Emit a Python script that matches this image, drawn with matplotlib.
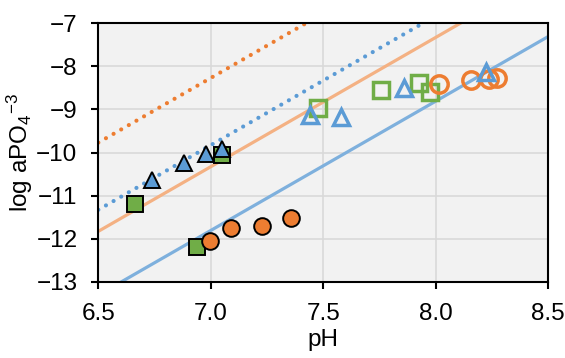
import matplotlib.pyplot as plt

plt.rcParams['font.family'] = ['Liberation Sans', 'DejaVu Sans']
plt.rcParams['mathtext.default'] = 'regular'

ORANGE = "#ED7D31"
BLUE = "#5B9BD5"
GREEN = "#70AD47"

# trend lines, values at pH 6.5 and 8.5
line_ph = [6.5, 8.5]
orange_dotted = [-9.77, -3.77]
blue_dotted = [-11.33, -5.33]
orange_solid = [-11.83, -5.83]
blue_solid = [-13.31, -7.31]

# filled symbols
green_fill_ph = [6.663, 6.938, 7.049]
green_fill_log = [-11.20, -12.20, -10.06]
orange_fill_ph = [6.997, 7.089, 7.227, 7.356]
orange_fill_log = [-12.05, -11.75, -11.71, -11.53]
blue_fill_ph = [6.740, 6.883, 6.978, 7.052]
blue_fill_log = [-10.63, -10.25, -10.03, -9.93]

# open symbols
green_open_ph = [7.477, 7.759, 7.928, 7.977]
green_open_log = [-8.97, -8.56, -8.39, -8.59]
orange_open_ph = [8.017, 8.159, 8.239, 8.271]
orange_open_log = [-8.41, -8.32, -8.30, -8.28]
blue_open_ph = [7.440, 7.581, 7.861, 8.226]
blue_open_log = [-9.13, -9.18, -8.51, -8.12]

fig = plt.figure(figsize=(5.65, 3.58), dpi=100)
ax = fig.add_axes([0.174, 0.213, 0.796, 0.722])
ax.set_facecolor("#F2F2F2")

ax.plot(line_ph, orange_dotted, color=ORANGE, lw=3, ls=(0, (0.01, 2.1)),
        dash_capstyle="round", zorder=2)
ax.plot(line_ph, blue_dotted, color=BLUE, lw=3, ls=(0, (0.01, 2.1)),
        dash_capstyle="round", zorder=2)
ax.plot(line_ph, orange_solid, color="#F4B183", lw=2.3, zorder=2)
ax.plot(line_ph, blue_solid, color="#7EB0DD", lw=2.3, zorder=2)

ax.plot(green_fill_ph, green_fill_log, ls="none", marker="s", ms=11,
        mfc=GREEN, mec="black", mew=1.4, zorder=3)
ax.plot(orange_fill_ph, orange_fill_log, ls="none", marker="o", ms=12,
        mfc=ORANGE, mec="black", mew=1.4, zorder=3)
ax.plot(blue_fill_ph, blue_fill_log, ls="none", marker="^", ms=12,
        mfc=BLUE, mec="black", mew=1.4, zorder=4)

ax.plot(green_open_ph, green_open_log, ls="none", marker="s", ms=12,
        mfc="none", mec=GREEN, mew=2.5, zorder=3)
ax.plot(orange_open_ph, orange_open_log, ls="none", marker="o", ms=12.5,
        mfc="none", mec=ORANGE, mew=2.5, zorder=3)
ax.plot(blue_open_ph, blue_open_log, ls="none", marker="^", ms=12,
        mfc="none", mec=BLUE, mew=2.5, zorder=4)

ax.set_xlim(6.5, 8.5)
ax.set_ylim(-13, -7)
ax.set_xticks([6.5, 7.0, 7.5, 8.0, 8.5])
ax.set_xticklabels(["6.5", "7.0", "7.5", "8.0", "8.5"])
ax.set_yticks(range(-13, -6))
ax.grid(True, color="#D9D9D9", lw=1.2)
ax.set_axisbelow(True)
for s in ax.spines.values():
    s.set_color("black")
    s.set_linewidth(1.5)
ax.tick_params(direction="out", length=5, width=1.5, labelsize=17.5, color="black")
ax.tick_params(axis="x", pad=10)
ax.tick_params(axis="y", pad=10)
ax.set_xlabel("pH", fontsize=17.5, labelpad=3)
ax.set_ylabel("log aPO$_4$$^{-3}$", fontsize=17.5, labelpad=1)

fig.savefig("out.png", dpi=100)
